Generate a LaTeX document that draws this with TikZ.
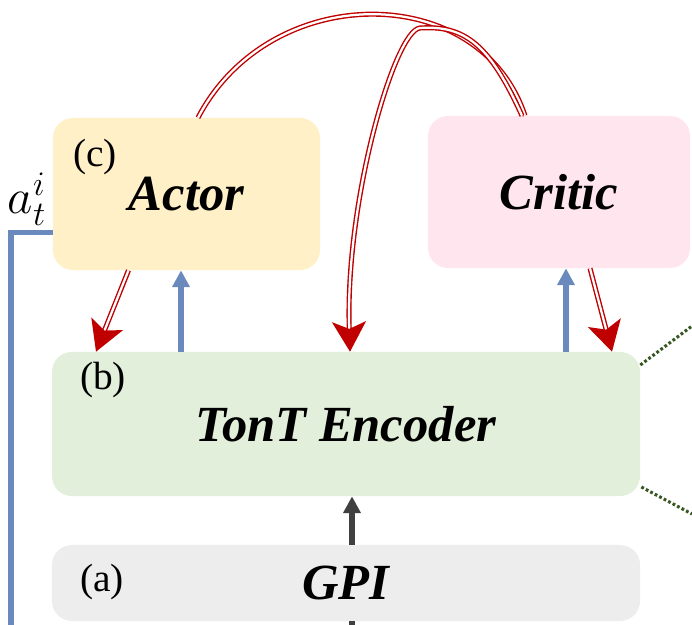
\documentclass[tikz,border=0pt]{standalone}
\usepackage{fix-cm}
\usepackage{fontspec}
\setmainfont{Liberation Serif}
\usetikzlibrary{arrows.meta,calc}
\definecolor{actorfill}{HTML}{FFF0C8}
\definecolor{criticfill}{HTML}{FFE6EE}
\definecolor{encfill}{HTML}{E2EFDA}
\definecolor{gpifill}{HTML}{EDEDED}
\definecolor{myblue}{HTML}{6A89BD}
\definecolor{myred}{HTML}{C00000}
\definecolor{mygray}{HTML}{404040}
\definecolor{mygreen}{HTML}{385723}

\begin{document}
\begin{tikzpicture}[x=0.025cm, y=-0.025cm,
    block/.style={rounded corners=0.5cm, inner sep=0pt, font=\fontsize{36}{40}\selectfont\bfseries\itshape},
    tag/.style={font=\fontsize{28}{32}\selectfont},
    obs/.style={-{Triangle[length=0.42cm, width=0.42cm]}, line width=3.8pt, myblue},
    redline/.style={draw=myred, double=white, line width=1pt, double distance=1.6pt},
    grad/.style={redline, -{Stealth[length=0.75cm, width=0.85cm, inset=0.18cm]}},
    link/.style={dash pattern=on 2pt off 1.6pt, line width=2.2pt, mygreen}]
    \useasboundingbox (0, 0) rectangle (692, 625);
    % Blocks
    \node[block, fill=actorfill, minimum width=6.675cm, minimum height=3.8cm] (actor) at (186.5, 194) {Actor};
    \node[block, fill=criticfill, minimum width=6.55cm, minimum height=3.8cm] (critic) at (559, 192) {Critic};
    \node[block, fill=encfill, minimum width=14.7cm, minimum height=3.6cm] (encoder) at (346, 424) {TonT Encoder};
    \node[block, fill=gpifill, minimum width=14.7cm, minimum height=1.9cm] (gpi) at (346, 583) {GPI};
    % Tags
    \node[tag] (tagc) at (95, 157) {(c)};
    \node[tag] (tagb) at (103, 380) {(b)};
    \node[tag] (taga) at (102, 582) {(a)};
    \node[tag, inner sep=0pt] (act) at (27, 199) {\scalebox{1.25}{$a_t^i$}};
    % Forward arrows
    \draw[obs] ($(encoder.north)+(-165, 0)$) -- ($(actor.south)+(-5.5, 0)$);
    \draw[obs] ($(encoder.north)+(220, 0)$) -- ($(critic.south)+(7, 0)$);
    \draw[obs, mygray] ($(gpi.north)+(6, 0)$) -- ($(encoder.south)+(6, 0)$);
    \draw[line width=3.8pt, mygray] ($(gpi.south)+(6, 0)$) -- ++(0, 10);
    % Action output
    \coordinate (out) at (11, 630);
    \draw[line width=3.6pt, myblue] ($(actor.west)+(0, 38.5)$) -| (out);
    % Gradients
    \draw[grad] ($(actor.south)+(-58, 0)$) -- ($(encoder.north)+(-250, 0)$);
    \draw[grad] ($(critic.south)+(31, 0)$) -- ($(encoder.north)+(266, 0)$);
    \draw[redline] ($(actor.north)+(11.5, 0)$) .. controls (270, -20) and (480, -20) .. ($(critic.north)+(-34, 0)$);
    \draw[grad] ($(critic.north)+(-37, 0)$) .. controls (490, 45) and (465, 25) .. (420, 28)
        .. controls (395, 30) and (345, 200) .. ($(encoder.north)+(4, 0)$);
    % Links to the detail view
    \coordinate (zoomtop) at (692, 326);
    \coordinate (zoombot) at (692, 514);
    \draw[link] ($(encoder.east)+(0, -59)$) -- (zoomtop);
    \draw[link] ($(encoder.east)+(1, 63)$) -- (zoombot);
\end{tikzpicture}
\end{document}
